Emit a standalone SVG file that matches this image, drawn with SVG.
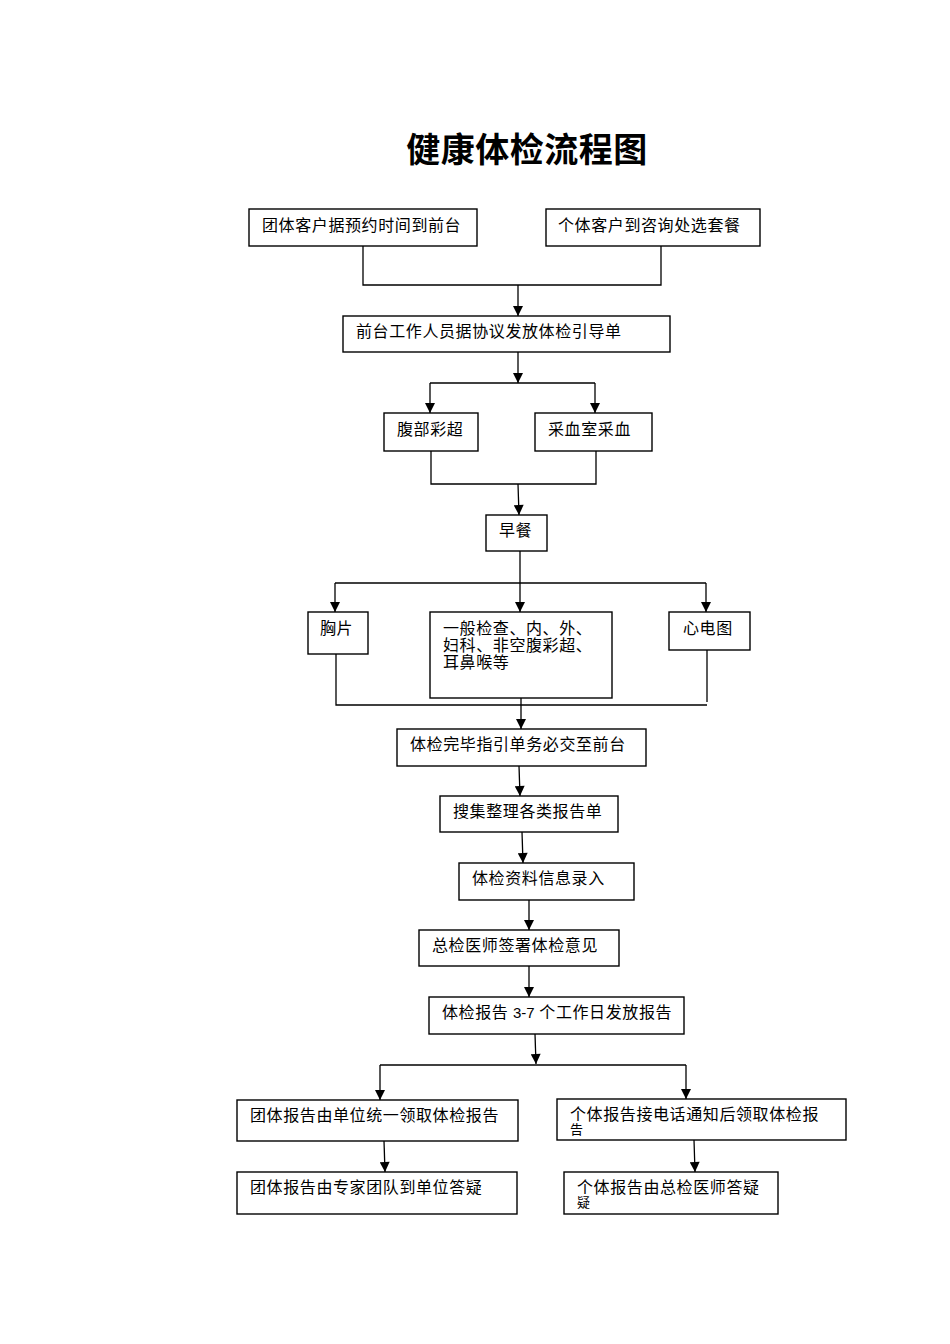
<svg xmlns="http://www.w3.org/2000/svg" width="950" height="1344" viewBox="0 0 950 1344">
<style>
.b{fill:#fff;stroke:#000;stroke-width:1.4}
.t{font-family:"Liberation Serif","Noto Sans CJK SC",serif;font-size:16px;letter-spacing:0.6px;fill:#000}
.s{font-family:"Liberation Serif","Noto Sans CJK SC",serif;font-size:13px;fill:#000}
.l{fill:none;stroke:#000;stroke-width:1.3}
.a{fill:none;stroke:#000;stroke-width:1.3;marker-end:url(#ah)}
</style>
<defs>
<marker id="ah" viewBox="0 0 10 10" refX="10" refY="5" markerWidth="11" markerHeight="10" markerUnits="userSpaceOnUse" orient="auto"><path d="M0,0 L10,5 L0,10 z" fill="#000"/></marker>
</defs>
<rect width="950" height="1344" fill="#fff"/>
<text x="527" y="162" text-anchor="middle" font-family="Noto Sans CJK SC, sans-serif" font-weight="bold" font-size="34" letter-spacing="0.5">健康体检流程图</text>
<g id="connectors">
<path class="l" d="M363,246 V285 H661 V246"/>
<path class="a" d="M518,285 V316"/>
<path class="a" d="M518,352 V383"/>
<path class="l" d="M430,383 H595"/>
<path class="a" d="M430,383 V413"/>
<path class="a" d="M595,383 V413"/>
<path class="l" d="M431,451 V484 H596 V451"/>
<path class="a" d="M518,484 L519,515"/>
<path class="l" d="M520,551 V583"/>
<path class="l" d="M335,583 H706"/>
<path class="a" d="M335,583 V612"/>
<path class="a" d="M520,583 V612"/>
<path class="a" d="M706,583 V612"/>
<path class="l" d="M336,654 V705 H707"/>
<path class="l" d="M707,650 V702"/>
<path class="a" d="M521,698 V729"/>
<path class="a" d="M519,766 L520,796"/>
<path class="a" d="M522,832 L523,863"/>
<path class="a" d="M529,900 V930"/>
<path class="a" d="M529,966 V997"/>
<path class="a" d="M535,1034 L536,1064"/>
<path class="l" d="M380,1065 H686"/>
<path class="a" d="M380,1065 V1100"/>
<path class="a" d="M686,1065 V1099"/>
<path class="a" d="M384,1141 L385,1172"/>
<path class="a" d="M694,1140 L695,1172"/>
</g>
<g id="n1"><rect class="b" x="249" y="209" width="228" height="37"/><text class="t" x="262" y="231">团体客户据预约时间到前台</text></g>
<g id="n2"><rect class="b" x="546" y="209" width="214" height="37"/><text class="t" x="558" y="231">个体客户到咨询处选套餐</text></g>
<g id="n3"><rect class="b" x="343" y="316" width="327" height="36"/><text class="t" x="356" y="337">前台工作人员据协议发放体检引导单</text></g>
<g id="n4"><rect class="b" x="384" y="413" width="94" height="38"/><text class="t" x="397" y="435">腹部彩超</text></g>
<g id="n5"><rect class="b" x="535" y="413" width="117" height="38"/><text class="t" x="548" y="435">采血室采血</text></g>
<g id="n6"><rect class="b" x="486" y="515" width="61" height="36"/><text class="t" x="499" y="536">早餐</text></g>
<g id="n7"><rect class="b" x="308" y="612" width="60" height="42"/><text class="t" x="320" y="634">胸片</text></g>
<g id="n8"><rect class="b" x="430" y="612" width="182" height="86"/><text class="t" x="443" y="634">一般检查、内、外、</text><text class="t" x="443" y="651">妇科、非空腹彩超、</text><text class="t" x="443" y="668">耳鼻喉等</text></g>
<g id="n9"><rect class="b" x="669" y="612" width="81" height="38"/><text class="t" x="683" y="634">心电图</text></g>
<g id="n10"><rect class="b" x="397" y="729" width="249" height="37"/><text class="t" x="410" y="750">体检完毕指引单务必交至前台</text></g>
<g id="n11"><rect class="b" x="440" y="796" width="178" height="36"/><text class="t" x="453" y="817">搜集整理各类报告单</text></g>
<g id="n12"><rect class="b" x="459" y="863" width="175" height="37"/><text class="t" x="472" y="884">体检资料信息录入</text></g>
<g id="n13"><rect class="b" x="419" y="930" width="200" height="36"/><text class="t" x="432" y="951">总检医师签署体检意见</text></g>
<g id="n14"><rect class="b" x="429" y="997" width="255" height="37"/><text class="t" x="442" y="1018">体检报告 <tspan font-family="Liberation Sans, sans-serif" font-size="15" letter-spacing="0">3-7</tspan> 个工作日发放报告</text></g>
<g id="n15"><rect class="b" x="237" y="1100" width="281" height="41"/><text class="t" x="250" y="1121">团体报告由单位统一领取体检报告</text></g>
<g id="n16"><rect class="b" x="557" y="1099" width="289" height="41"/><text class="t" x="570" y="1120">个体报告接电话通知后领取体检报</text><text class="s" x="570" y="1134">告</text></g>
<g id="n17"><rect class="b" x="237" y="1172" width="280" height="42"/><text class="t" x="250" y="1193">团体报告由专家团队到单位答疑</text></g>
<g id="n18"><rect class="b" x="564" y="1172" width="214" height="42"/><text class="t" x="577" y="1193">个体报告由总检医师答疑</text><text class="s" x="577" y="1207">疑</text></g>
</svg>
